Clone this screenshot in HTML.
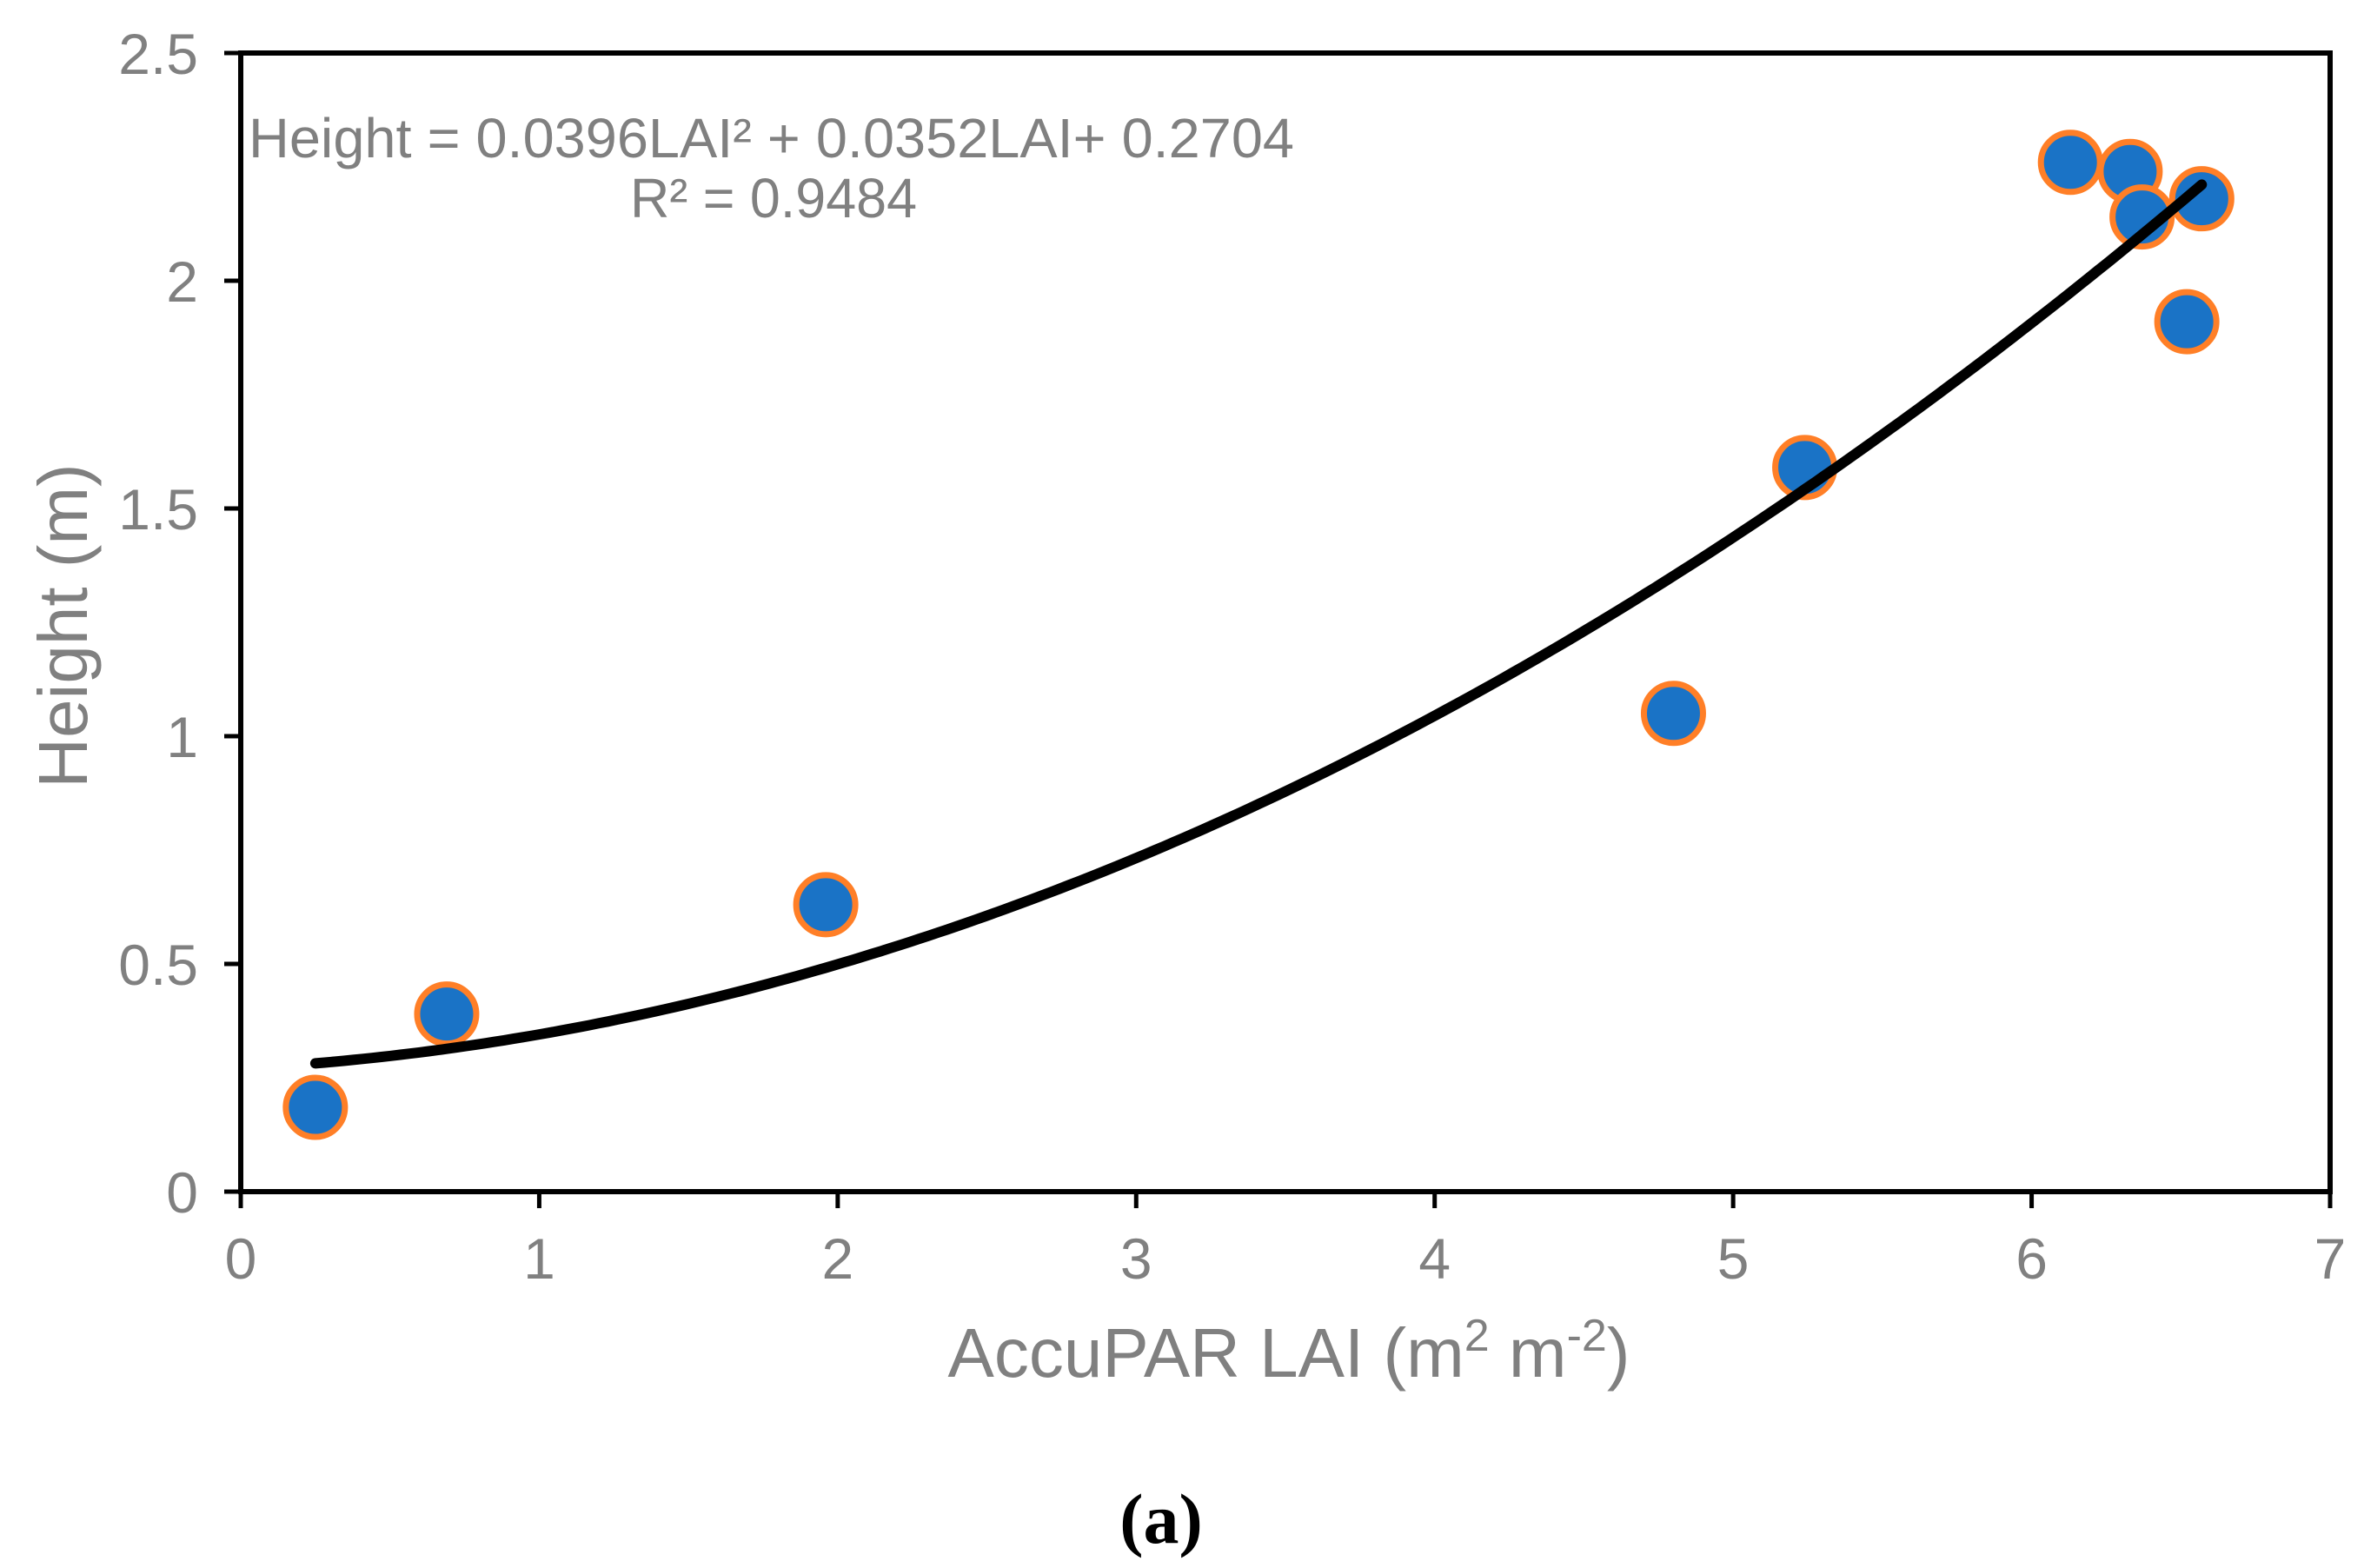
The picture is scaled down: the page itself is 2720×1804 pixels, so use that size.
<!DOCTYPE html>
<html><head><meta charset="utf-8">
<style>
html,body{margin:0;padding:0;background:#fff;}
svg{display:block;}
text{font-family:"Liberation Sans",Arial,sans-serif;fill:#808080;}
</style></head>
<body>
<svg id="chart" width="2720" height="1804" viewBox="0 0 2720 1804" xmlns="http://www.w3.org/2000/svg">
  <g id="grid-layer"></g>
  <g id="points-layer"></g>
  <g id="trend-layer"></g>
  <text x="286" y="181" font-size="64" textLength="1203" lengthAdjust="spacingAndGlyphs">Height = 0.0396LAI² + 0.0352LAI+ 0.2704</text>
  <text x="725" y="250" font-size="64" textLength="330" lengthAdjust="spacingAndGlyphs">R² = 0.9484</text>
  <text x="1483" y="1584" font-size="80" text-anchor="middle">AccuPAR LAI (m<tspan font-size="52" dy="-30">2</tspan><tspan dy="30"> m</tspan><tspan font-size="52" dy="-30">-2</tspan><tspan dy="30">)</tspan></text>
  <text transform="translate(100,720) rotate(-90)" font-size="80" text-anchor="middle">Height  (m)</text>
  <text x="1336" y="1775" font-size="82" text-anchor="middle" font-weight="bold" style="font-family:'Liberation Serif',serif;fill:#000">(a)</text>
</svg>
<script>
const xTicks = [0,1,2,3,4,5,6,7];
const yTicks = [0,0.5,1,1.5,2,2.5];
const yTickLabels = ["0","0.5","1","1.5","2","2.5"];
const lai = [0.25,0.69,1.96,4.80,5.24,6.13,6.33,6.37,6.57,6.52];
const height = [0.185,0.39,0.63,1.05,1.59,2.26,2.24,2.14,2.18,1.91];
const coefA = 0.0396, coefB = 0.0352, coefC = 0.2704;
const trendRange = [0.25,6.57];

const L=277,R=2681,T=61,B=1371;
const sx=v=>L+(v-0)/(7-0)*(R-L);
const sy=v=>B-(v-0)/(2.5-0)*(B-T);
const NS="http://www.w3.org/2000/svg";
function mk(tag,attrs,parent){const e=document.createElementNS(NS,tag);for(const k in attrs)e.setAttribute(k,attrs[k]);parent.appendChild(e);return e;}
const g=document.getElementById('grid-layer');
const f=mk('rect',{x:L,y:T,width:R-L,height:B-T,fill:'none',stroke:'#000','stroke-width':6},g);


xTicks.forEach(t=>{
  const l=mk('line',{x1:sx(t),x2:sx(t),y1:B,y2:B+19,stroke:'#000','stroke-width':5},g);
  
  
  const tx=mk('text',{x:sx(t),y:B+100,'font-size':66,'text-anchor':'middle'},g);
  tx.textContent=String(t);
  
  
});
yTicks.forEach((t,i)=>{
  const l=mk('line',{x1:L-19,x2:L,y1:sy(t),y2:sy(t),stroke:'#000','stroke-width':5},g);
  
  
  const tx=mk('text',{x:228,y:sy(t)+24,'font-size':66,'text-anchor':'end'},g);
  tx.textContent=yTickLabels[i];
  
  
});
const pg=document.getElementById('points-layer');
lai.forEach((x,i)=>{
  const c=mk('circle',{cx:sx(x),cy:sy(height[i]),r:34,fill:'#1a73c6',stroke:'#ff7f27','stroke-width':7},pg);
  
  
});
const tg=document.getElementById('trend-layer');
let pts=[];
for(let i=0;i<=200;i++){const x=trendRange[0]+(trendRange[1]-trendRange[0])*i/200;const y=coefA*x*x+coefB*x+coefC;pts.push(sx(x).toFixed(1)+','+sy(y).toFixed(1));}
const tl=mk('polyline',{points:pts.join(' '),fill:'none',stroke:'#000','stroke-width':12,'stroke-linecap':'round','stroke-linejoin':'round'},tg);


</script>
</body></html>
